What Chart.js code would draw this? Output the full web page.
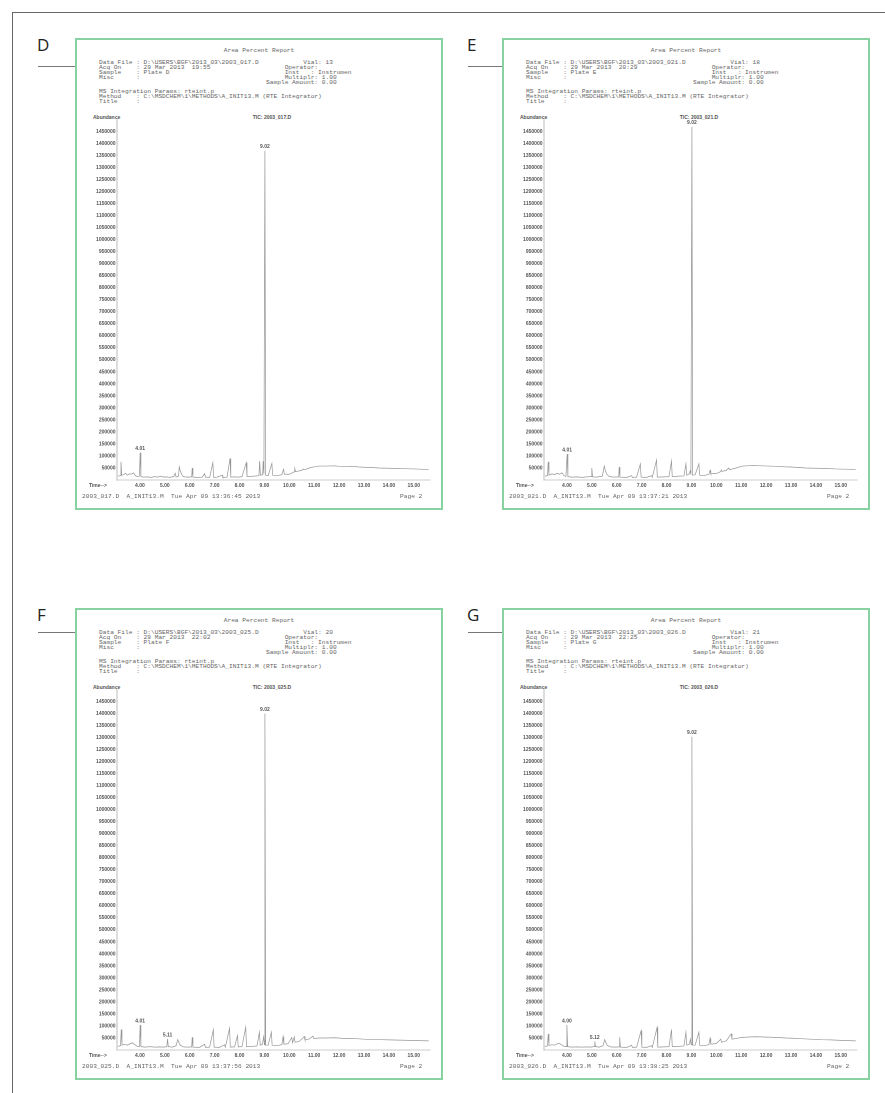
<!DOCTYPE html>
<html lang="en">
<head>
<meta charset="UTF-8">
<title>Area Percent Report - Plates D to G</title>
<script src="https://cdn.jsdelivr.net/npm/chart.js"></script>
<style>
  body { margin: 0; background: #fff; font-family: 'Open Sans', 'Noto Sans', sans-serif; }
  #page { position: relative; width: 885px; height: 1093px; overflow: hidden; }
  .frame { position: absolute; left: 12px; top: 12px; width: 900px; height: 1100px;
           border-top: 1.5px solid #666; border-left: 1.5px solid #666; }
  .ltr { position: absolute; font-size: 17px; line-height: 17px; color: #222; }
  .rule { position: absolute; height: 0; border-top: 1px solid #777; }
  .panel { position: absolute; width: 368px; height: 472px; border: 2px solid #88d2a2; box-sizing: border-box; }
  .mono { position: absolute; font-family: 'Liberation Mono', 'DejaVu Sans Mono', monospace; font-size: 6.2px;
          line-height: 4.9px; color: #666; white-space: pre; }
  .title { left: 0; width: 364px; top: 9.3px; text-align: center; }
  .head { left: 22px; top: 20.9px; }
  .lbl { position: absolute; font-family: 'Liberation Sans', Arial, sans-serif; font-weight: bold;
         font-size: 5px; line-height: 6px; color: #555; white-space: pre; }
  .abund { left: 16px; top: 74px; }
  .tic { left: 145px; width: 100px; top: 74px; text-align: center; }
  .timeLbl { left: 12px; top: 442px; }
  .foot { left: 5px; top: 454.5px; }
  .page2 { left: 323px; top: 454.5px; }
  canvas { position: absolute; left: 3px; top: 72px; }
</style>
</head>
<body>
<div id="page">
  <div class="frame"></div>
  <div class="ltr" style="left:37px; top:36px;">D</div>
  <div class="ltr" style="left:467px; top:36px;">E</div>
  <div class="ltr" style="left:37px; top:606px;">F</div>
  <div class="ltr" style="left:467px; top:606px;">G</div>
  <div class="rule" style="left:38px; top:66px; width:37px;"></div>
  <div class="rule" style="left:468px; top:66px; width:34px;"></div>
  <div class="rule" style="left:38px; top:632px; width:37px;"></div>
  <div class="rule" style="left:468px; top:632px; width:34px;"></div>
</div>

<script>
  // report details per panel
  const panelIds = ['D', 'E', 'F', 'G'];
  const dataFiles = ['2003_017.D', '2003_021.D', '2003_025.D', '2003_026.D'];
  const vials = ['13', '18', '20', '21'];
  const acqOn = ['29 Mar 2013  19:55', '29 Mar 2013  20:29', '29 Mar 2013  22:02', '29 Mar 2013  22:25'];
  const samples = ['Plate D', 'Plate E', 'Plate F', 'Plate G'];
  const printedOn = ['Tue Apr 09 13:36:45 2013', 'Tue Apr 09 13:37:21 2013', 'Tue Apr 09 13:37:56 2013', 'Tue Apr 09 13:38:25 2013'];

  // axis ticks
  const timeTicks = [4, 5, 6, 7, 8, 9, 10, 11, 12, 13, 14, 15];
  const abundanceStep = 50000;
  const abundanceMax = 1500000;

  // TIC traces: [retention time (min), abundance]
  const traceD = [[3.12,16000],[3.22,18000],[3.24,76000],[3.27,20000],[3.35,22000],[3.42,28000],[3.5,20000],[3.58,26000],[3.65,24000],[3.75,30000],[3.82,18000],[3.9,14000],[3.98,16000],[4.01,114000],[4.04,14000],[4.15,12000],[4.3,13000],[4.45,11000],[4.6,14000],[4.7,12000],[4.85,16000],[4.92,12000],[5.05,13000],[5.2,11000],[5.35,14000],[5.42,28000],[5.45,12000],[5.55,15000],[5.58,55000],[5.62,38000],[5.68,22000],[5.75,14000],[5.9,12000],[6.08,13000],[6.1,50000],[6.13,12000],[6.3,11000],[6.5,12000],[6.6,26000],[6.63,12000],[6.8,11000],[6.93,72000],[6.96,11000],[7.1,12000],[7.3,20000],[7.33,11000],[7.5,12000],[7.62,90000],[7.65,12000],[7.8,13000],[7.95,12000],[8.1,14000],[8.27,72000],[8.3,14000],[8.45,15000],[8.6,16000],[8.78,18000],[8.81,79000],[8.84,20000],[8.93,22000],[8.95,78000],[8.98,25000],[9.02,1370000],[9.05,20000],[9.15,18000],[9.3,69000],[9.33,20000],[9.5,18000],[9.7,22000],[9.77,45000],[9.8,24000],[10.0,24000],[10.2,34000],[10.22,48000],[10.25,35000],[10.5,40000],[10.55,46000],[10.6,42000],[10.8,50000],[11.0,55000],[11.2,58000],[11.5,58000],[11.8,59000],[12.0,57000],[12.2,56000],[12.5,57000],[12.8,54000],[13.0,53000],[13.3,52000],[13.6,50000],[14.0,49000],[14.3,48000],[14.6,47000],[15.0,46000],[15.3,45000],[15.6,44000]];
  const traceE = [[3.12,16000],[3.22,18000],[3.25,76000],[3.28,20000],[3.4,26000],[3.5,22000],[3.6,28000],[3.7,24000],[3.8,30000],[3.88,18000],[3.96,15000],[4.01,108000],[4.04,14000],[4.2,12000],[4.4,13000],[4.6,11000],[4.8,13000],[4.97,14000],[5.0,50000],[5.03,13000],[5.2,12000],[5.42,16000],[5.5,58000],[5.54,40000],[5.6,24000],[5.7,14000],[5.9,12000],[6.08,13000],[6.1,54000],[6.13,12000],[6.4,11000],[6.6,18000],[6.63,11000],[6.8,12000],[6.95,67000],[6.98,12000],[7.2,11000],[7.4,18000],[7.43,11000],[7.6,83000],[7.63,12000],[7.9,13000],[8.1,14000],[8.2,79000],[8.23,14000],[8.5,16000],[8.7,17000],[8.78,67000],[8.81,20000],[8.9,24000],[8.95,38000],[8.98,22000],[9.02,1470000],[9.05,20000],[9.15,22000],[9.3,67000],[9.33,20000],[9.5,18000],[9.7,24000],[9.75,40000],[9.78,26000],[10.0,27000],[10.18,35000],[10.2,42000],[10.23,36000],[10.4,40000],[10.5,50000],[10.53,43000],[10.8,50000],[11.0,57000],[11.2,59000],[11.5,60000],[11.8,59000],[12.1,58000],[12.4,57000],[12.7,55000],[13.0,54000],[13.3,52000],[13.6,50000],[14.0,49000],[14.4,48000],[14.8,46000],[15.2,45000],[15.6,44000]];
  const traceF = [[3.12,15000],[3.22,18000],[3.25,85000],[3.28,20000],[3.4,24000],[3.5,20000],[3.6,26000],[3.7,30000],[3.8,22000],[3.9,15000],[3.98,14000],[4.01,104000],[4.04,14000],[4.2,12000],[4.4,14000],[4.6,12000],[4.8,13000],[4.95,12000],[5.08,14000],[5.11,46000],[5.14,14000],[5.3,12000],[5.45,18000],[5.52,43000],[5.56,32000],[5.62,20000],[5.75,13000],[5.95,12000],[6.08,13000],[6.1,53000],[6.13,12000],[6.4,11000],[6.6,24000],[6.63,11000],[6.8,12000],[6.95,85000],[6.98,12000],[7.2,11000],[7.4,22000],[7.43,11000],[7.6,90000],[7.63,12000],[7.8,13000],[7.92,60000],[7.95,13000],[8.1,14000],[8.25,95000],[8.28,14000],[8.5,15000],[8.7,17000],[8.8,74000],[8.83,20000],[8.92,24000],[8.97,55000],[9.0,22000],[9.02,1400000],[9.05,20000],[9.15,20000],[9.28,74000],[9.31,20000],[9.5,18000],[9.7,22000],[9.75,55000],[9.78,24000],[9.95,26000],[10.1,52000],[10.13,30000],[10.2,54000],[10.23,32000],[10.4,36000],[10.6,56000],[10.63,42000],[10.8,46000],[10.95,58000],[10.98,48000],[11.2,50000],[11.5,50000],[11.8,51000],[12.1,49000],[12.4,48000],[12.7,47000],[13.0,45000],[13.3,44000],[13.7,43000],[14.0,42000],[14.4,41000],[14.8,40000],[15.2,39000],[15.6,38000]];
  const traceG = [[3.12,15000],[3.22,17000],[3.25,67000],[3.28,19000],[3.4,22000],[3.5,20000],[3.6,25000],[3.7,28000],[3.8,20000],[3.9,15000],[3.97,14000],[4.0,104000],[4.03,14000],[4.2,12000],[4.4,13000],[4.6,12000],[4.8,13000],[4.95,12000],[5.09,14000],[5.12,35000],[5.15,14000],[5.3,12000],[5.45,18000],[5.52,43000],[5.56,32000],[5.62,20000],[5.75,13000],[5.95,12000],[6.1,13000],[6.12,53000],[6.15,12000],[6.4,11000],[6.6,20000],[6.63,11000],[6.8,12000],[6.98,80000],[7.01,12000],[7.2,11000],[7.4,18000],[7.43,11000],[7.62,94000],[7.65,12000],[7.9,13000],[8.1,14000],[8.2,85000],[8.23,14000],[8.5,15000],[8.7,17000],[8.78,74000],[8.81,20000],[8.92,24000],[8.96,45000],[8.99,22000],[9.02,1304000],[9.05,20000],[9.15,20000],[9.3,74000],[9.33,20000],[9.5,18000],[9.7,22000],[9.75,48000],[9.78,24000],[10.0,27000],[10.18,45000],[10.21,32000],[10.4,38000],[10.6,67000],[10.63,45000],[10.8,48000],[11.0,52000],[11.3,54000],[11.6,55000],[11.9,54000],[12.2,53000],[12.5,52000],[12.8,50000],[13.1,49000],[13.4,47000],[13.8,45000],[14.2,43000],[14.6,42000],[15.0,40000],[15.3,39000],[15.6,38000]];

  // integrated peaks that carry a retention time label
  const peaksD = ['4.01', '9.02'];
  const peaksE = ['4.01', '9.02'];
  const peaksF = ['4.01', '5.11', '9.02'];
  const peaksG = ['4.00', '5.12', '9.02'];

  const traces = [traceD, traceE, traceF, traceG];
  const peakLabels = [peaksD, peaksE, peaksF, peaksG];
  const boxPos = [[75, 38], [502, 38], [75, 608], [502, 608]];

  Chart.defaults.font.family = '"Liberation Sans", Arial, sans-serif';

  // writes the RT above each labelled peak
  const peakLabelPlugin = {
    id: 'peakLabels',
    afterDatasetsDraw(chart, args, opts) {
      const ctx = chart.ctx;
      const xs = chart.scales.x, ys = chart.scales.y;
      const pts = chart.data.datasets[0].data;
      ctx.save();
      ctx.font = 'bold 5px "Liberation Sans", Arial, sans-serif';
      ctx.fillStyle = '#555';
      ctx.textAlign = 'center';
      ctx.textBaseline = 'bottom';
      (opts.labels || []).forEach(txt => {
        const t = parseFloat(txt);
        const p = pts.find(d => Math.abs(d.x - t) < 0.001);
        if (p) ctx.fillText(txt, xs.getPixelForValue(p.x), ys.getPixelForValue(p.y) - 1.5);
      });
      ctx.restore();
    }
  };

  function pad(s, n) { return s + ' '.repeat(Math.max(1, n - s.length)); }

  function headerLines(i) {
    return [
      pad('Data File : D:\\USERS\\BGF\\2013_03\\' + dataFiles[i], 55) + 'Vial: ' + vials[i],
      pad('Acq On    : ' + acqOn[i], 50) + 'Operator:',
      pad('Sample    : ' + samples[i], 50) + 'Inst   : Instrumen',
      pad('Misc      :', 50) + 'Multiplr: 1.00',
      ' '.repeat(45) + 'Sample Amount: 0.00',
      '',
      'MS Integration Params: rteint.p',
      'Method    : C:\\MSDCHEM\\1\\METHODS\\A_INIT13.M (RTE Integrator)',
      'Title     :'
    ];
  }

  const page = document.getElementById('page');

  panelIds.forEach((id, i) => {
    const box = document.createElement('div');
    box.className = 'panel';
    box.style.left = boxPos[i][0] + 'px';
    box.style.top = boxPos[i][1] + 'px';
    box.innerHTML =
      '<div class="mono title">Area Percent Report</div>' +
      '<div class="mono head"></div>' +
      '<div class="lbl abund">Abundance</div>' +
      '<div class="lbl tic">TIC: ' + dataFiles[i] + '</div>' +
      '<canvas width="352" height="382"></canvas>' +
      '<div class="lbl timeLbl">Time--&gt;</div>' +
      '<div class="mono foot"></div>' +
      '<div class="mono page2">Page 2</div>';
    box.querySelector('.head').textContent = headerLines(i).join('\n');
    box.querySelector('.foot').textContent = pad(dataFiles[i] + '  A_INIT13.M', 24) + printedOn[i];
    page.appendChild(box);

    new Chart(box.querySelector('canvas'), {
      type: 'line',
      data: {
        datasets: [{
          data: traces[i].map(p => ({ x: p[0], y: p[1] })),
          borderColor: '#969696',
          borderWidth: 0.7,
          pointRadius: 0,
          tension: 0,
          fill: false
        }]
      },
      options: {
        responsive: false,
        animation: false,
        devicePixelRatio: 2,
        layout: { padding: { top: 7.6, right: 2, left: 0, bottom: 0 } },
        plugins: {
          legend: { display: false },
          tooltip: { enabled: false },
          peakLabels: { labels: peakLabels[i] }
        },
        scales: {
          x: {
            type: 'linear', min: 3.08, max: 15.65,
            grid: { display: false, drawTicks: false },
            border: { display: true, color: '#bbb', width: 0.8, dash: [1.5, 1.5] },
            ticks: {
              stepSize: 1, includeBounds: false, autoSkip: false, maxRotation: 0, padding: 2.5,
              color: '#555', font: { size: 5, weight: 'bold' },
              callback: v => timeTicks.some(t => Math.abs(t - v) < 1e-6) ? Number(v).toFixed(2) : ''
            },
            afterFit: s => { s.height = 14; }
          },
          y: {
            min: 0, max: abundanceMax,
            grid: { display: false, drawTicks: false },
            border: { display: true, color: '#aaa', width: 0.8 },
            ticks: {
              stepSize: abundanceStep, autoSkip: false, padding: 1.5,
              color: '#555', font: { size: 5, weight: 'bold' },
              callback: v => (v > 0 && v < abundanceMax) ? String(v) : ''
            },
            afterFit: s => { s.width = 37; }
          }
        }
      },
      plugins: [peakLabelPlugin]
    });
  });
</script>
</body>
</html>
